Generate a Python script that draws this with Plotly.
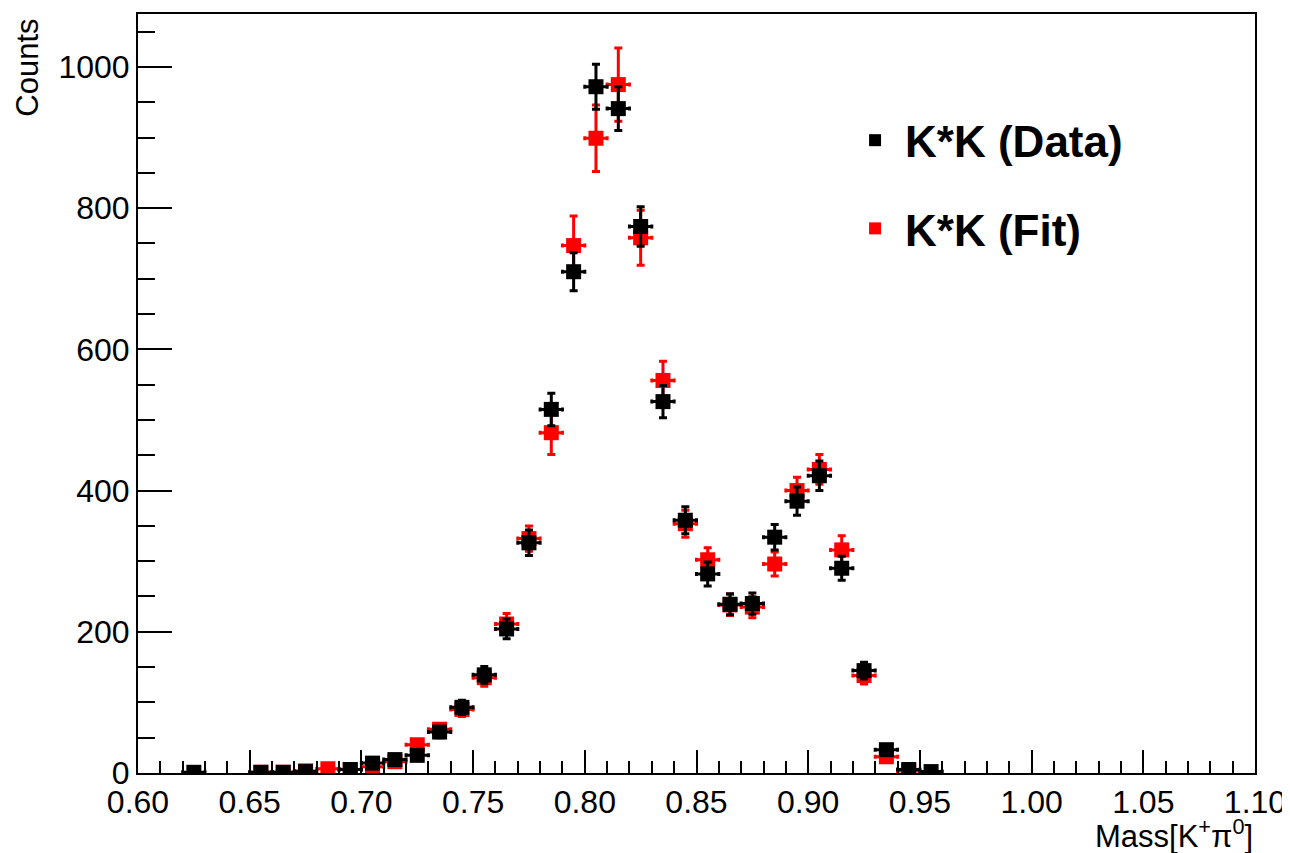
import plotly.graph_objects as go

# Data (K*K, counts per 0.01 bin)
data_x = [0.625, 0.655, 0.665, 0.675, 0.695, 0.705, 0.715, 0.725, 0.735, 0.745,
          0.755, 0.765, 0.775, 0.785, 0.795, 0.805, 0.815, 0.825, 0.835, 0.845,
          0.855, 0.865, 0.875, 0.885, 0.895, 0.905, 0.915, 0.925, 0.935, 0.945, 0.955]
data_y = [1, 1, 1, 2, 5, 14, 19, 25, 58, 93,
          139, 204, 326, 515, 710, 972, 941, 774, 526, 358,
          282, 239, 240, 334, 385, 421, 290, 145, 33, 5, 2]
data_err = [1, 1, 1, 1, 2, 4, 4, 5, 8, 10,
            12, 14, 18, 23, 27, 32, 31, 28, 23, 19,
            17, 15, 15, 18, 20, 21, 17, 12, 6, 2, 1]

fit_x = [0.655, 0.665, 0.675, 0.685, 0.695, 0.705, 0.715, 0.725, 0.735, 0.745,
         0.755, 0.765, 0.775, 0.785, 0.795, 0.805, 0.815, 0.825, 0.835, 0.845,
         0.855, 0.865, 0.875, 0.885, 0.895, 0.905, 0.915, 0.925, 0.935, 0.945]
fit_y = [1, 1, 3, 6, 5, 9, 16, 40, 62, 90,
         135, 211, 332, 482, 747, 899, 975, 758, 556, 353,
         302, 238, 235, 296, 400, 430, 316, 138, 23, 3]
fit_err = [1, 1, 2, 2, 2, 3, 4, 6, 8, 10,
           12, 15, 18, 31, 42, 47, 52, 39, 27, 19,
           17, 15, 15, 17, 19, 21, 20, 12, 5, 2]

half_bin = 0.005

x_ticks = [0.60, 0.65, 0.70, 0.75, 0.80, 0.85, 0.90, 0.95, 1.00, 1.05, 1.10]
y_ticks = [0, 200, 400, 600, 800, 1000]

FONT = "Liberation Sans"

fig = go.Figure()

fig.add_trace(go.Scatter(
    x=fit_x, y=fit_y, mode="markers", name="<b>K*K (Fit)</b>",
    marker=dict(symbol="square", size=15, color="#ff0000"),
    error_y=dict(type="data", array=fit_err, color="#ff0000", thickness=3, width=4),
    error_x=dict(type="constant", value=half_bin, color="#ff0000", thickness=3, width=2),
    legendgroup="b", legendrank=2,
))
fig.add_trace(go.Scatter(
    x=data_x, y=data_y, mode="markers", name="<b>K*K (Data)</b>",
    marker=dict(symbol="square", size=15, color="#000000"),
    error_y=dict(type="data", array=data_err, color="#000000", thickness=3, width=4),
    error_x=dict(type="constant", value=half_bin, color="#000000", thickness=3, width=2),
    legendgroup="a", legendrank=1,
))

fig.update_layout(
    width=1282, height=845,
    margin=dict(l=130, r=32, t=4, b=80),
    paper_bgcolor="white", plot_bgcolor="white",
    font=dict(family=FONT, size=32, color="black"),
    showlegend=True,
    legend=dict(
        x=0.633, y=0.88, xanchor="left", yanchor="top",
        bgcolor="rgba(0,0,0,0)", borderwidth=0,
        font=dict(family=FONT, size=44, color="black"),
        traceorder="grouped", tracegroupgap=28, itemwidth=50,
        itemsizing="constant",
    ),
    xaxis=dict(
        range=[0.6, 1.1], tickvals=x_ticks, ticktext=[f"{v:.2f}" for v in x_ticks],
        ticks="inside", ticklen=23, tickwidth=2, tickcolor="black",
        minor=dict(ticks="inside", ticklen=12, tickwidth=2, dtick=0.01, tick0=0.6, tickcolor="black"),
        showline=True, linewidth=2, linecolor="black", mirror=True,
        showgrid=False, zeroline=False,
        tickfont=dict(family=FONT, size=32, color="black"),
    ),
    yaxis=dict(
        range=[0, 1075], tickvals=y_ticks,
        ticks="inside", ticklen=34, tickwidth=2, tickcolor="black",
        minor=dict(ticks="inside", ticklen=17, tickwidth=2, dtick=50, tick0=0, tickcolor="black"),
        showline=True, linewidth=2, linecolor="black", mirror=True,
        showgrid=False, zeroline=False,
        tickfont=dict(family=FONT, size=32, color="black"),
    ),
    annotations=[
        dict(text="Counts", xref="paper", yref="paper", x=-0.0997, y=0.996,
             xanchor="center", yanchor="top", textangle=-90, showarrow=False,
             font=dict(family=FONT, size=31, color="black")),
        dict(text="Mass[K<sup>+</sup>π<sup>0</sup>]", xref="paper", yref="paper",
             x=1.0, y=-0.081, xanchor="right", yanchor="middle", showarrow=False,
             font=dict(family=FONT, size=31, color="black")),
    ],
)

fig.write_html("out.html")
